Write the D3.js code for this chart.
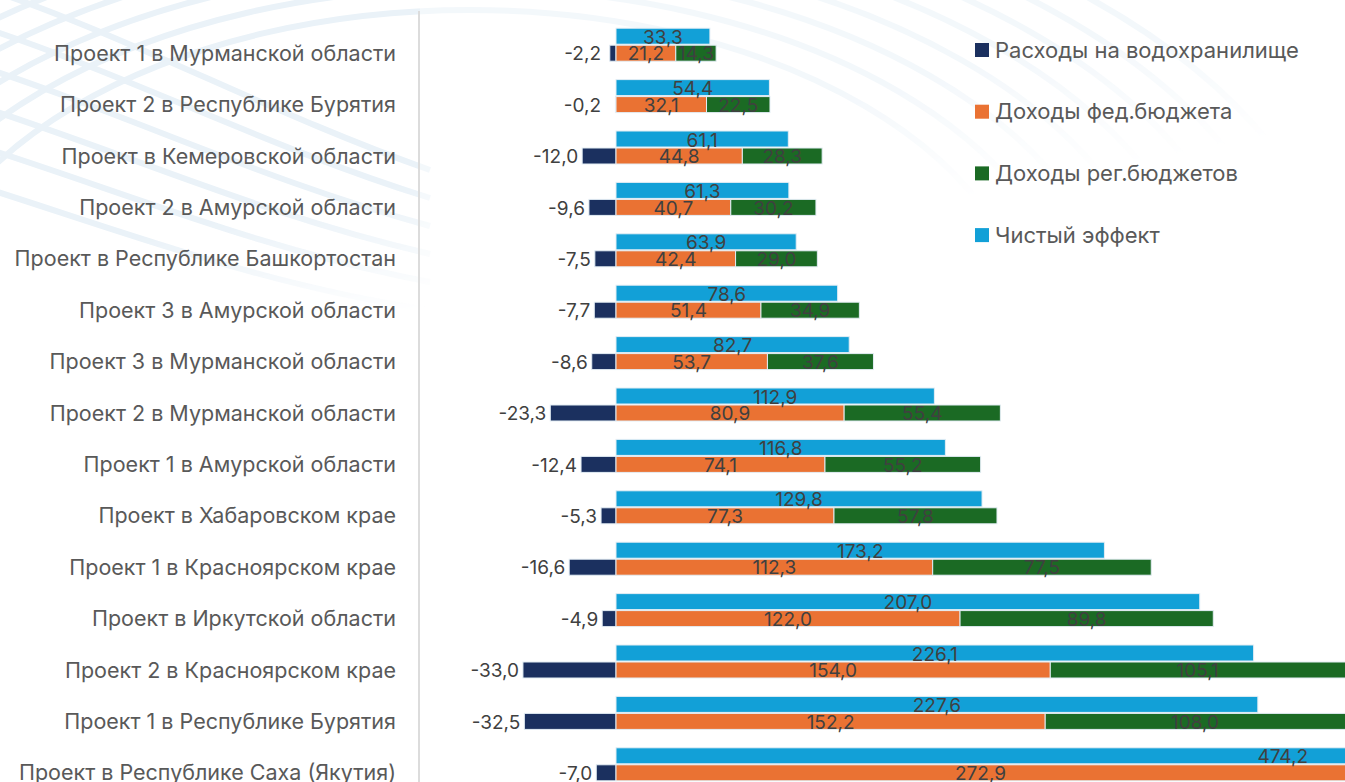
<!DOCTYPE html>
<html>
<head>
<meta charset="utf-8">
<script src="https://cdn.jsdelivr.net/npm/d3@7"></script>
<style>
  html, body { margin: 0; padding: 0; background: #fff; }
  svg { display: block; font-family: Inter, "Noto Sans", sans-serif; }
</style>
</head>
<body>
<div id="chart"></div>
<script>
// data
const projects = [
    "Проект 1 в Мурманской области",
    "Проект 2 в Республике Бурятия ",
    "Проект в Кемеровской области",
    "Проект 2 в Амурской области",
    "Проект в Республике Башкортостан",
    "Проект 3 в Амурской области",
    "Проект 3 в Мурманской области",
    "Проект 2 в Мурманской области",
    "Проект 1 в Амурской области",
    "Проект в Хабаровском крае",
    "Проект 1 в Красноярском крае",
    "Проект в Иркутской области",
    "Проект 2 в Красноярском крае",
    "Проект 1 в Республике Бурятия ",
    "Проект в Республике Саха (Якутия)"
]
const expenses = [-2.2, -0.2, -12.0, -9.6, -7.5, -7.7, -8.6, -23.3, -12.4, -5.3, -16.6, -4.9, -33.0, -32.5, -7.0]
const fedIncome = [21.2, 32.1, 44.8, 40.7, 42.4, 51.4, 53.7, 80.9, 74.1, 77.3, 112.3, 122.0, 154.0, 152.2, 272.9]
const regIncome = [14.3, 22.5, 28.3, 30.2, 29.0, 34.9, 37.6, 55.4, 55.2, 57.8, 77.5, 89.8, 105.1, 108.0, 208.3]
const netEffect = [33.3, 54.4, 61.1, 61.3, 63.9, 78.6, 82.7, 112.9, 116.8, 129.8, 173.2, 207.0, 226.1, 227.6, 474.2]

const seriesNames = ["Расходы на водохранилище", "Доходы фед.бюджета", "Доходы рег.бюджетов", "Чистый эффект"]
const seriesColors = ["#1b305f", "#ea7233", "#1b6a24", "#12a0d7"]

const width = 1345
const height = 782
const barH = 16

const ru = d3.formatLocale({decimal: ",", thousands: " ", grouping: [3], currency: ["", ""], minus: "-"})
const fmt = ru.format(".1f")

const svg = d3.select("#chart").append("svg")
    .attr("width", width)
    .attr("height", height)

// fade the background swooshes out towards the bottom / right
const defs = svg.append("defs")
const grad = defs.append("linearGradient")
    .attr("id", "fade")
    .attr("x1", 0).attr("y1", 0).attr("x2", 0.35).attr("y2", 1)
grad.append("stop").attr("offset", "0").attr("stop-color", "#fff")
grad.append("stop").attr("offset", "0.3").attr("stop-color", "#fff")
grad.append("stop").attr("offset", "0.45").attr("stop-color", "#000")
defs.append("mask")
    .attr("id", "decoMask")
    .attr("maskUnits", "userSpaceOnUse")
    .attr("x", 0).attr("y", 0).attr("width", width).attr("height", height)
    .append("rect")
    .attr("width", width).attr("height", height)
    .attr("fill", "url(#fade)")

const deco = svg.append("g")
    .attr("mask", "url(#decoMask)")
    .attr("fill", "none")
    .attr("stroke", "#eaf2f8")
    .attr("stroke-width", 6)
for (let k = 0; k < 8; k++) {
    deco.append("ellipse")
        .attr("cx", 470)
        .attr("cy", 340)
        .attr("rx", 560 + k * 45)
        .attr("ry", 330 + k * 22)
}
for (let k = 0; k < 6; k++) {
    deco.append("path")
        .attr("d", `M -40 ${-20 + k * 40} C 120 ${30 + k * 40}, 260 ${110 + k * 35}, 430 ${170 + k * 28}`)
}
// keep the plot area clean
svg.append("rect")
    .attr("x", 420).attr("y", 0)
    .attr("width", width).attr("height", height)
    .attr("fill", "#fff")
    .attr("opacity", 0.45)

svg.append("line")
    .attr("x1", 419).attr("x2", 419)
    .attr("y1", 11).attr("y2", height)
    .attr("stroke", "#dcdcdc")
    .attr("stroke-width", 2)

const x = d3.scaleLinear()
    .domain([0, 250])
    .range([616, 616 + 250 * 2.82])

const y = d3.scaleBand()
    .domain(projects)
    .range([19, 19 + 51.4 * projects.length])

const center = d => y(d) + y.bandwidth() / 2

const rows = projects.map((p, i) => ({
    name: p,
    exp: expenses[i],
    fed: fedIncome[i],
    reg: regIncome[i],
    net: netEffect[i]
}))

const g = svg.append("g")

// category labels
g.append("g")
    .selectAll("text")
    .data(rows)
    .join("text")
    .attr("x", 396)
    .attr("y", d => center(d.name) + 8.5)
    .attr("dy", "0.35em")
    .attr("text-anchor", "end")
    .attr("fill", "#595959")
    .style("font-size", "21.5px")
    .text(d => d.name)

const bars = g.append("g")
    .attr("stroke", "#e3edf4")
    .attr("stroke-width", 1)

// net effect bars (top)
bars.selectAll(".net")
    .data(rows)
    .join("rect")
    .attr("class", "net")
    .attr("x", x(0))
    .attr("y", d => center(d.name) - 16.5)
    .attr("width", d => x(d.net) - x(0))
    .attr("height", barH)
    .attr("fill", seriesColors[3])

// expenses (negative)
bars.selectAll(".exp")
    .data(rows)
    .join("rect")
    .attr("class", "exp")
    .attr("x", d => x(d.exp))
    .attr("y", d => center(d.name) + 0.5)
    .attr("width", d => x(0) - x(d.exp))
    .attr("height", barH)
    .attr("fill", seriesColors[0])

bars.selectAll(".fed")
    .data(rows)
    .join("rect")
    .attr("class", "fed")
    .attr("x", x(0))
    .attr("y", d => center(d.name) + 0.5)
    .attr("width", d => x(d.fed) - x(0))
    .attr("height", barH)
    .attr("fill", seriesColors[1])

bars.selectAll(".reg")
    .data(rows)
    .join("rect")
    .attr("class", "reg")
    .attr("x", d => x(d.fed))
    .attr("y", d => center(d.name) + 0.5)
    .attr("width", d => x(d.fed + d.reg) - x(d.fed))
    .attr("height", barH)
    .attr("fill", seriesColors[2])

// value labels
const labels = g.append("g")
    .attr("fill", "#404040")
    .style("font-size", "19px")

function midVisible(a, b) {
    return (x(a) + Math.min(x(b), width)) / 2
}

labels.selectAll(".lnet")
    .data(rows)
    .join("text")
    .attr("x", d => x(d.net) > width ? width - 37 : midVisible(0, d.net))
    .attr("y", d => center(d.name) - 7.5)
    .attr("dy", "0.35em")
    .attr("text-anchor", d => x(d.net) > width ? "end" : "middle")
    .text(d => fmt(d.net))

labels.selectAll(".lfed")
    .data(rows)
    .join("text")
    .attr("x", d => midVisible(0, d.fed))
    .attr("y", d => center(d.name) + 9)
    .attr("dy", "0.35em")
    .attr("text-anchor", "middle")
    .text(d => fmt(d.fed))

labels.selectAll(".lreg")
    .data(rows.filter(d => x(d.fed) < width))
    .join("text")
    .attr("x", d => midVisible(d.fed, d.fed + d.reg))
    .attr("y", d => center(d.name) + 9)
    .attr("dy", "0.35em")
    .attr("text-anchor", "middle")
    .text(d => fmt(d.reg))

labels.selectAll(".lexp")
    .data(rows)
    .join("text")
    .attr("x", d => Math.min(x(d.exp) - 4, 601))
    .attr("y", d => center(d.name) + 9)
    .attr("dy", "0.35em")
    .attr("text-anchor", "end")
    .text(d => fmt(d.exp))

// legend
const legend = svg.append("g")
    .attr("transform", "translate(975, 50)")
    .selectAll("g")
    .data(seriesNames)
    .join("g")
    .attr("transform", (d, i) => `translate(0, ${i * 61.7})`)

legend.append("rect")
    .attr("x", 0)
    .attr("y", -7)
    .attr("width", 14)
    .attr("height", 14)
    .attr("fill", (d, i) => seriesColors[i])

legend.append("text")
    .attr("x", 20)
    .attr("dy", "0.35em")
    .attr("fill", "#595959")
    .style("font-size", "22px")
    .text(d => d)
</script>
</body>
</html>
